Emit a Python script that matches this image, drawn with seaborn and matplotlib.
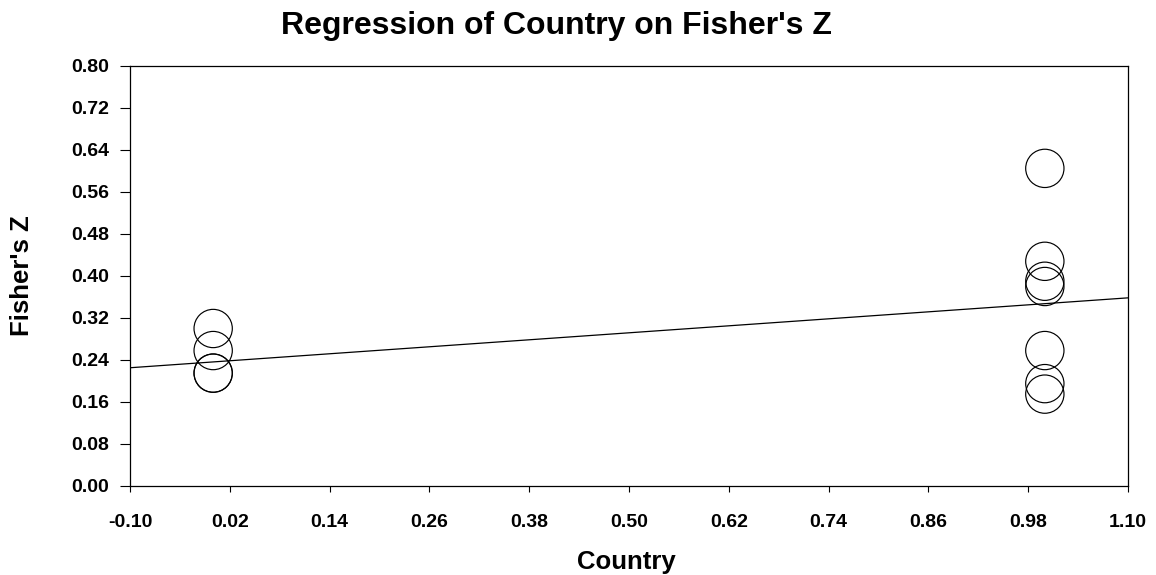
import numpy as np
import pandas as pd
import matplotlib
matplotlib.use("Agg")
import matplotlib.pyplot as plt
import seaborn as sns

# Study-level effect sizes by country group (0 / 1)
country = [0, 0, 0, 0, 1, 1, 1, 1, 1, 1, 1]
fisher_z = [0.300, 0.258, 0.215, 0.215, 0.605, 0.428, 0.390, 0.380, 0.258, 0.195, 0.175]
weights = [1, 1, 2, 2, 1, 1, 1, 1, 1, 1, 1]

x_ticks = [-0.10, 0.02, 0.14, 0.26, 0.38, 0.50, 0.62, 0.74, 0.86, 0.98, 1.10]
y_ticks = [0.00, 0.08, 0.16, 0.24, 0.32, 0.40, 0.48, 0.56, 0.64, 0.72, 0.80]

sns.set_style("white")
plt.rcParams["font.family"] = ["Liberation Sans", "DejaVu Sans"]
plt.rcParams["font.weight"] = "bold"
plt.rcParams["text.color"] = "black"
plt.rcParams["axes.labelcolor"] = "black"
plt.rcParams["xtick.color"] = "black"
plt.rcParams["ytick.color"] = "black"

df = pd.DataFrame({"Country": country, "FisherZ": fisher_z, "w": weights})

fig = plt.figure(figsize=(11.56, 5.75), dpi=100)
ax = fig.add_axes([130 / 1156, 1 - 486 / 575, (1128 - 130) / 1156, (486 - 66) / 575])

# Weighted meta-regression line across the full x range
slope, intercept = np.polyfit(df["Country"], df["FisherZ"], 1, w=np.sqrt(df["w"]))
line = pd.DataFrame({"x": [x_ticks[0], x_ticks[-1]]})
line["y"] = intercept + slope * line["x"]
sns.lineplot(data=line, x="x", y="y", ax=ax, color="black", linewidth=0.9, zorder=2)

sns.scatterplot(data=df, x="Country", y="FisherZ", ax=ax, s=760,
                facecolor="none", edgecolor="black", linewidth=0.85, zorder=3)

ax.set_xlim(x_ticks[0], x_ticks[-1])
ax.set_ylim(y_ticks[0], y_ticks[-1])
ax.set_xticks(x_ticks)
ax.set_yticks(y_ticks)
ax.set_xticklabels([f"{v:.2f}" for v in x_ticks], fontsize=14, fontweight="bold")
ax.set_yticklabels([f"{v:.2f}" for v in y_ticks], fontsize=14, fontweight="bold")
ax.tick_params(axis="y", direction="out", length=7, width=0.8, pad=8, left=True, colors="black")
ax.tick_params(axis="x", direction="out", length=4, width=0.8, pad=16, bottom=True, colors="black")
ax.set_xlabel("")
ax.set_ylabel("")
for sp in ax.spines.values():
    sp.set_color("black")
    sp.set_linewidth(0.9)

fig.text(556 / 1156, 1 - 26 / 575, "Regression of Country on Fisher's Z",
         ha="center", va="center", fontsize=23, fontweight="bold", color="black")
fig.text(626 / 1156, 1 - 562 / 575, "Country", ha="center", va="center",
         fontsize=18.5, fontweight="bold", color="black")
fig.text(22 / 1156, 1 - 276 / 575, "Fisher's Z", ha="center", va="center",
         rotation=90, fontsize=18.5, fontweight="bold", color="black")

fig.savefig("out.png", dpi=100, facecolor="white")
